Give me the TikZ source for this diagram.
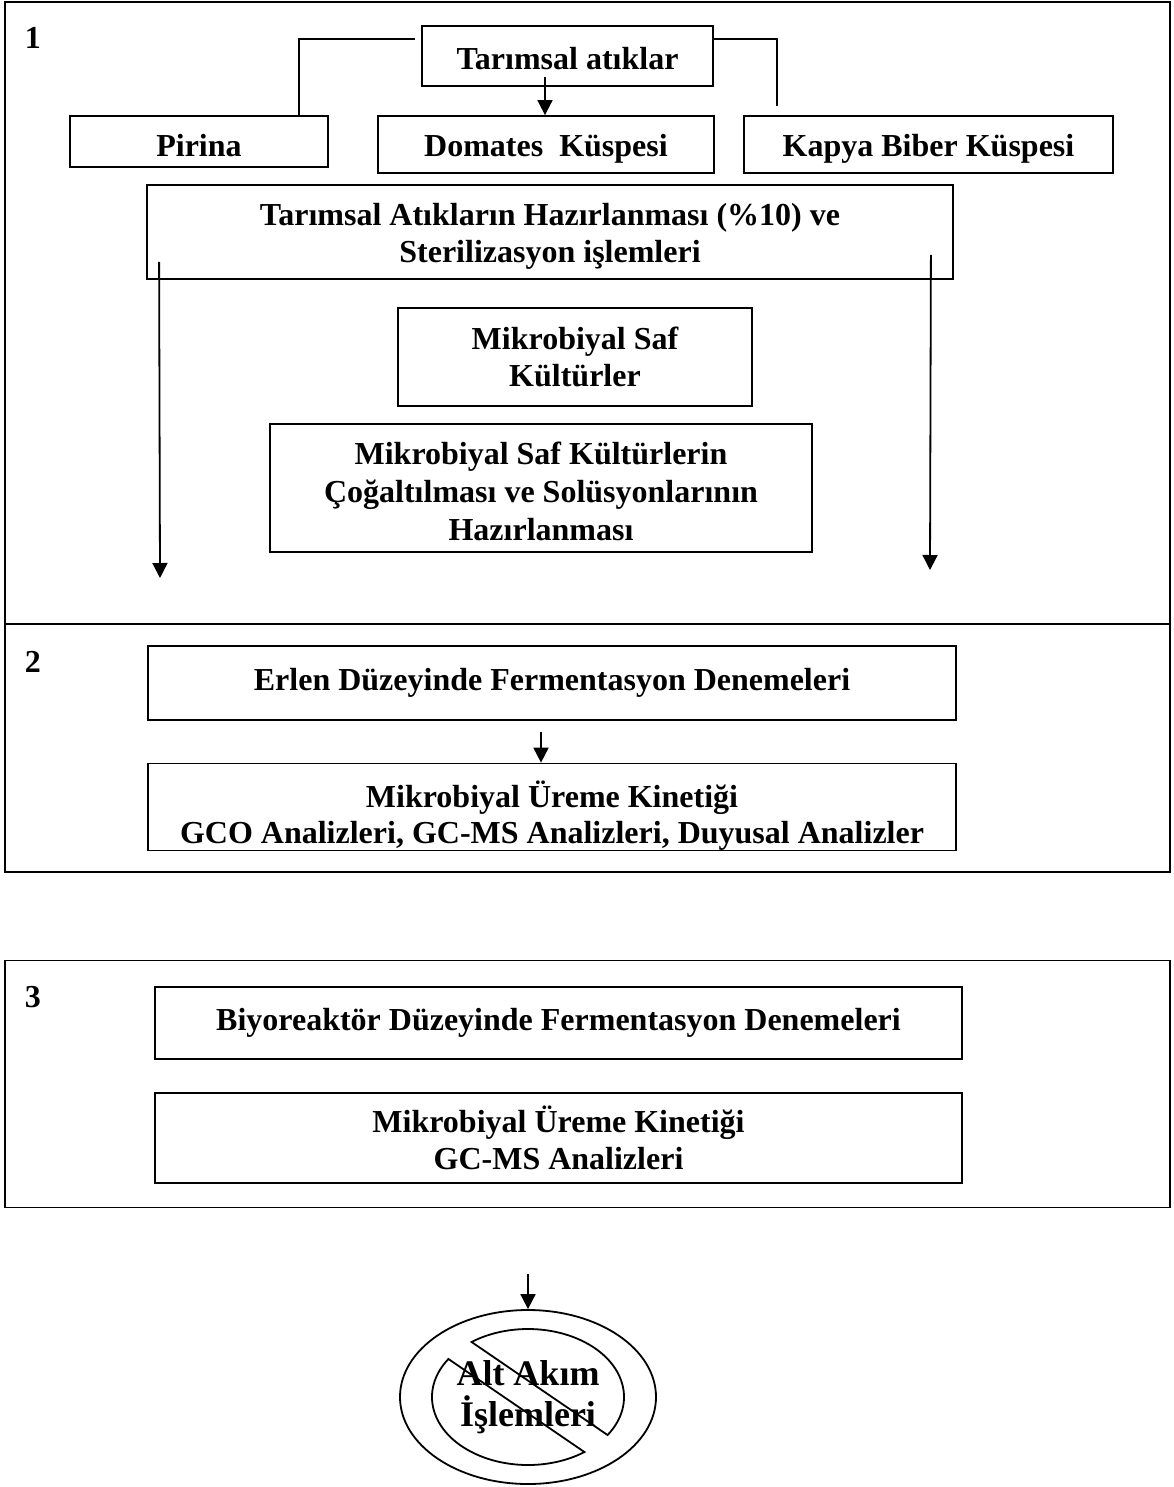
\documentclass[tikz,border=0pt]{standalone}
\usepackage{fontspec}
\setmainfont{Liberation Serif}
\usetikzlibrary{arrows.meta,positioning,shapes.geometric}
\newcommand{\boxpad}[1]{\rule{0pt}{#1}}

\begin{document}
\begin{tikzpicture}[
    x=0.5pt, y=-0.5pt,
    every node/.style={font=\bfseries\fontsize{16}{18.5}\selectfont},
    part/.style={draw, line width=0.9pt, inner sep=0pt, minimum width=582.5pt},
    box/.style={draw, line width=0.9pt, align=center, inner sep=0pt},
    tag/.style={inner sep=0pt},
    link/.style={line width=0.8pt},
    flow/.style={-{Triangle[length=7.5pt,width=7.5pt]}, line width=0.9pt}
]
\useasboundingbox (0,0) rectangle (1173,1487);
\node[part, minimum height=311pt] (part1) at (587.5,313) {};
\node[part, minimum height=124pt] (part2) at (587.5,748) {};
\node[part, minimum height=123.5pt] (part3) at (587.5,1084) {};
\node[tag] (num1) at (33,38) {1};
\node[tag] (num2) at (33,662) {2};
\node[tag] (num3) at (33,997) {3};

\node[box, minimum width=145.5pt, minimum height=30pt] (waste) at (567.5,56) {\boxpad{14pt}Tarımsal atıklar};
\node[box, minimum width=129pt, minimum height=25.5pt] (pirina) at (199,141.5) {\boxpad{15.5pt}Pirina};
\node[box, minimum width=168pt, minimum height=28.5pt] (tomato) at (546,144.5) {\boxpad{15pt}Domates\ \ Küspesi};
\node[box, minimum width=184.5pt, minimum height=28.5pt] (pepper) at (928.5,144.5) {\boxpad{15pt}Kapya Biber Küspesi};
\node[box, minimum width=403pt, minimum height=47pt] (prep) at (550,232) {\boxpad{15.5pt}Tarımsal Atıkların Hazırlanması (\%10) ve\\Sterilizasyon işlemleri};
\node[box, minimum width=177pt, minimum height=49pt] (culture) at (575,357) {Mikrobiyal Saf\\Kültürler};
\node[box, minimum width=271pt, minimum height=64pt, font=\bfseries\fontsize{16}{19}\selectfont] (growth) at (541,488) {\boxpad{15pt}Mikrobiyal Saf Kültürlerin\\Çoğaltılması ve Solüsyonlarının\\Hazırlanması};

\node[box, minimum width=404pt, minimum height=37pt] (flask) at (552,683) {Erlen Düzeyinde Fermentasyon Denemeleri};
\node[box, minimum width=404pt, minimum height=41pt, font=\bfseries\fontsize{16}{18}\selectfont] (kinetic) at (552,807) {\boxpad{22pt}Mikrobiyal Üreme Kinetiği\\GCO Analizleri, GC-MS Analizleri, Duyusal Analizler};

\node[box, minimum width=403.5pt, minimum height=36pt] (reactor) at (558.5,1023) {Biyoreaktör Düzeyinde Fermentasyon Denemeleri};
\node[box, minimum width=403.5pt, minimum height=45pt] (kinetic2) at (558.5,1138) {Mikrobiyal Üreme Kinetiği\\GC-MS Analizleri};

\node[draw, ellipse, line width=0.9pt, inner sep=0pt, minimum width=128pt, minimum height=87pt, align=center,
      font=\bfseries\fontsize{18}{20.5}\selectfont] (down) at (528,1397) {Alt Akım\\İşlemleri};
\draw[line width=0.9pt] (down.center) ++(-34:48pt and 34pt) arc[start angle=-34, end angle=126, x radius=48pt, y radius=34pt] -- cycle;
\draw[line width=0.9pt] (down.center) ++(146:48pt and 34pt) arc[start angle=146, end angle=306, x radius=48pt, y radius=34pt] -- cycle;

\coordinate (lefttip) at (160,578);
\coordinate (righttip) at (930,570);
\draw[link] ([xshift=-3pt,yshift=-7pt]waste.north west) -| ([xshift=-15pt]pirina.north east);
\draw[link] ([yshift=-7pt]waste.north east) -| ([xshift=17pt,yshift=4.5pt]pepper.north west);
\draw[flow] ([xshift=-11.25pt,yshift=5pt]waste.south) -- ([xshift=-0.5pt]tomato.north);
\draw[flow] ([xshift=6.5pt,yshift=9pt]prep.south west) -- (lefttip);
\draw[flow] ([xshift=-11.5pt,yshift=12.5pt]prep.south east) -- (righttip);
\draw[flow] ([xshift=-5.5pt,yshift=-5.5pt]flask.south) -- ([xshift=-5.5pt]kinetic.north);
\draw[flow] ([yshift=17.5pt]down.north) -- (down.north);
\end{tikzpicture}
\end{document}
